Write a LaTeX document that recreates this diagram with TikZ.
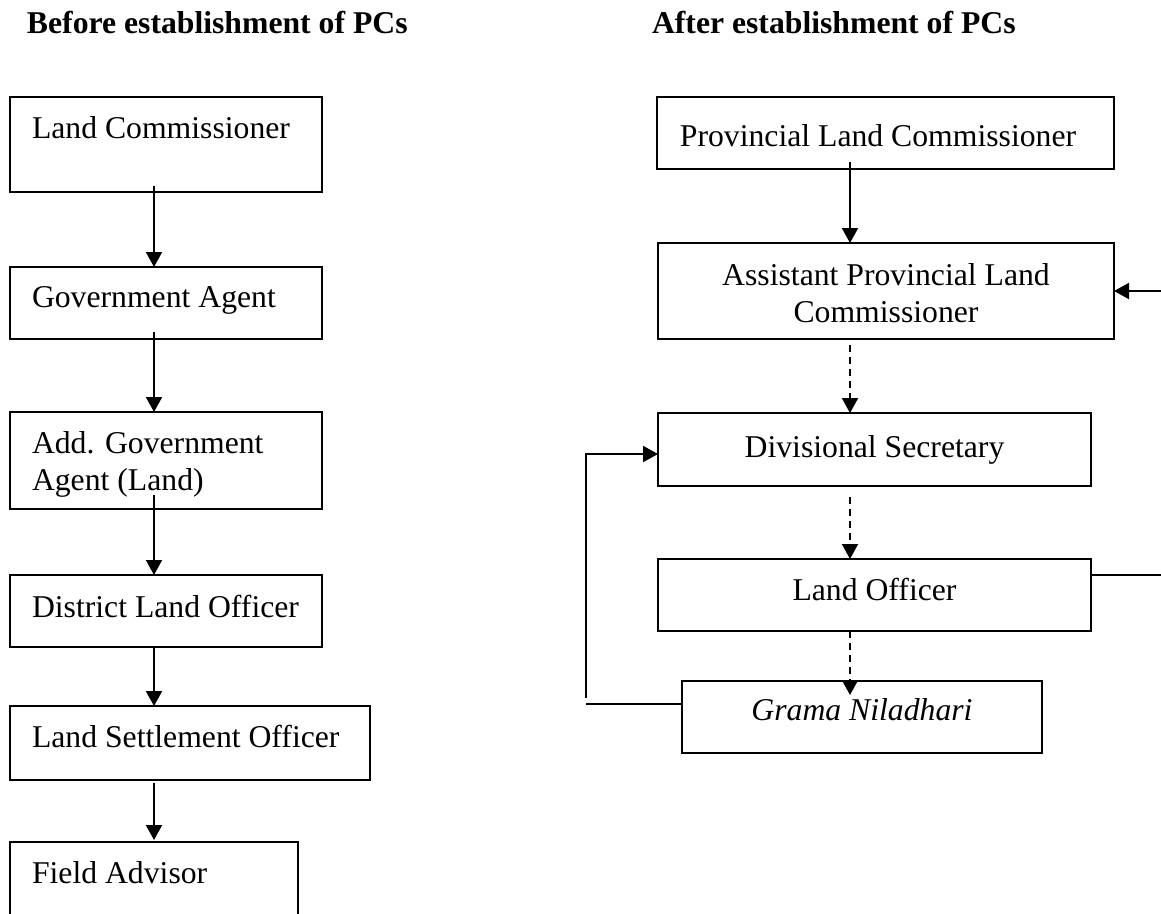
\documentclass[tikz,border=0pt]{standalone}
\usepackage{fontspec}
\setmainfont{Liberation Serif}
\usetikzlibrary{arrows.meta}
\begin{document}
\begin{tikzpicture}[x=1pt,y=-1pt,
  box/.style={draw,line width=2pt,inner sep=0pt,outer sep=0pt,rectangle},
  txt/.style={inner sep=0pt,outer sep=0pt,font=\fontsize{31.7}{37}\selectfont},
  hdr/.style={inner sep=0pt,outer sep=0pt,font=\fontsize{31.7}{37}\selectfont\bfseries},
  arr/.style={line width=2pt,-{Triangle[length=15pt,width=16pt]}},
  dsh/.style={arr,dash pattern=on 7pt off 5pt},
  con/.style={line width=2pt}]
\fill[white] (0,0) rectangle (1161,913);
\useasboundingbox (0,0) rectangle (1161,913);

% headers
\node[hdr,anchor=base west] (h1) at (27,33) {Before establishment of PCs};
\node[hdr,anchor=base west] (h2) at (652,33) {After establishment of PCs};

% left column boxes
\node[box,minimum width=312pt,minimum height=95pt] (lc)  at (166,144.5) {};
\node[box,minimum width=312pt,minimum height=72pt] (ga)  at (166,303) {};
\node[box,minimum width=312pt,minimum height=97pt] (aga) at (166,460.5) {};
\node[box,minimum width=312pt,minimum height=72pt] (dlo) at (166,611) {};
\node[box,minimum width=360pt,minimum height=74pt] (lso) at (190,743) {};
\node[box,minimum width=288pt,minimum height=118pt] (fa) at (154,901) {};

\node[txt,anchor=base west] (tlc)  at (32,138) {Land Commissioner};
\node[txt,anchor=base west] (tga)  at (32,307) {Government Agent};
\node[txt,anchor=base west] (taga1) at (32,453) {Add. Government};
\node[txt,anchor=base west] (taga2) at (32,490) {Agent (Land)};
\node[txt,anchor=base west] (tdlo) at (32,617) {District Land Officer};
\node[txt,anchor=base west] (tlso) at (32,747) {Land Settlement Officer};
\node[txt,anchor=base west] (tfa)  at (32,883) {Field Advisor};

% right column boxes
\node[box,minimum width=457pt,minimum height=72pt] (plc)  at (885.5,133) {};
\node[box,minimum width=456pt,minimum height=96pt] (aplc) at (886,291) {};
\node[box,minimum width=433pt,minimum height=73pt] (ds)   at (874.5,449.5) {};
\node[box,minimum width=433pt,minimum height=72pt] (lo)   at (874.5,595) {};
\node[box,minimum width=360pt,minimum height=72pt] (gn)   at (862,717) {};

\node[txt,anchor=base] (tplc)  at (878,146) {Provincial Land Commissioner};
\node[txt,anchor=base] (taplc1) at (886,285) {Assistant Provincial Land};
\node[txt,anchor=base] (taplc2) at (886,322) {Commissioner};
\node[txt,anchor=base] (tds)   at (874.5,457) {Divisional Secretary};
\node[txt,anchor=base] (tlo)   at (874.5,600) {Land Officer};
\node[txt,anchor=base] (tgn)   at (862,720) {\itshape Grama Niladhari};

% left column arrows (x = 154)
\coordinate (colL) at (154,0);
\coordinate (colR) at (850,0);
\draw[arr] ([yshift=6pt]lc.south -| colL) -- (ga.north -| colL);
\draw[arr] ([yshift=7pt]ga.south -| colL) -- (aga.north -| colL);
\draw[arr] ([yshift=14pt]aga.south -| colL) -- (dlo.north -| colL);
\draw[arr] (dlo.south -| colL) -- (lso.north -| colL);
\draw[arr] ([yshift=-3pt]lso.south -| colL) -- ([yshift=2pt]fa.north -| colL);

% right column arrows (x = 850)
\draw[arr] ([yshift=7pt]plc.south -| colR) -- (aplc.north -| colR);
\draw[dsh] ([yshift=-6pt]aplc.south -| colR) -- (ds.north -| colR);
\draw[dsh] ([yshift=-11pt]ds.south -| colR) -- (lo.north -| colR);
\draw[dsh] (lo.south -| colR) -- ([yshift=-14pt]gn.north -| colR);

% side connectors
\coordinate (inR) at (1161,291);
\draw[arr] (inR) -- (aplc.east);
\coordinate (outR) at (1161,575);
\draw[con] (outR -| lo.east) -- (outR);
\coordinate (gl) at (586,704);
\draw[con] (gl) -- (gl -| gn.west);
\coordinate (vb) at (586,698);
\coordinate (vt) at (586,454);
\draw[arr] (vb) -- (vt) -- (vt -| ds.west);
\end{tikzpicture}
\end{document}
